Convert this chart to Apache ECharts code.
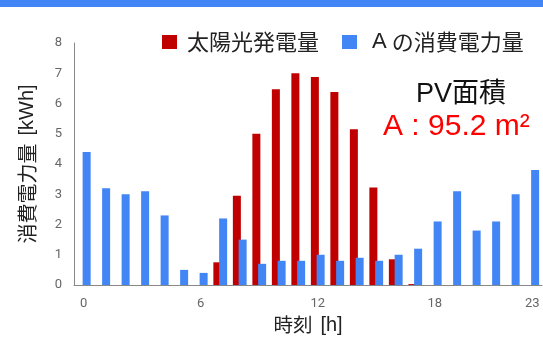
<!DOCTYPE html>
<html>
<head>
<meta charset="utf-8">
<script src="https://cdn.jsdelivr.net/npm/echarts@6/dist/echarts.min.js"></script>
<style>
  html, body { margin: 0; padding: 0; background: #fff; }
  #bar { position: absolute; left: 0; top: 0; width: 543px; height: 7px; background: #4285f4; }
  #chart { width: 543px; height: 338px; }
</style>
</head>
<body>
<div id="chart"></div>
<div id="bar"></div>
<script>
// Hourly data (kWh)
const hours = Array.from({ length: 24 }, (_, i) => String(i));
const shownHourLabels = [0, 6, 12, 18, 23];
const pvGeneration = [0, 0, 0, 0, 0, 0, 0, 0.75, 2.95, 5.0, 6.47, 7.0, 6.88, 6.38, 5.15, 3.22, 0.85, 0.03, 0, 0, 0, 0, 0, 0];
const consumptionA = [4.4, 3.2, 3.0, 3.1, 2.3, 0.5, 0.4, 2.2, 1.5, 0.7, 0.8, 0.8, 1.0, 0.8, 0.9, 0.8, 1.0, 1.2, 2.1, 3.1, 1.8, 2.1, 3.0, 3.8];
const seriesNames = ['太陽光発電量', 'Aの消費電力量'];
const xAxisTitle = ['時刻', '[h]'];
const yAxisTitle = ['消費電力量', '[kWh]'];
const areaTitle = 'PV面積';
const areaValue = 'A : 95.2 m²';

const FONT = "Roboto, 'Noto Sans CJK JP', sans-serif";
const CJK = "'Noto Sans CJK JP', sans-serif";
const LATIN = "'Liberation Sans', sans-serif";
const NOTE_FONT = "'Liberation Sans', 'Noto Sans CJK JP', sans-serif";

// axis titles: Japanese part plus a unit in brackets
const titleRich = (cjkSize) => ({
  a: { fontSize: cjkSize, fontFamily: CJK, color: '#222' },
  b: { fontSize: 20, fontFamily: LATIN, color: '#222', padding: [0, 0, 0, 8] }
});

// legend entries: a leading Latin letter gets its own, wider face
const legendFormatter = (name) => {
  const m = name.match(/^([A-Za-z]+)(.*)$/);
  return m ? '{l|' + m[1] + '}{c|' + m[2] + '}' : '{c|' + name + '}';
};

const chart = echarts.init(document.getElementById('chart'), null, { renderer: 'canvas' });
chart.setOption({
  animation: false,
  textStyle: { fontFamily: FONT },
  grid: { left: 74, right: 1, top: 43, bottom: 53, outerBoundsMode: 'none', containLabel: false },
  legend: {
    left: 162, top: 31, padding: 0,
    icon: 'rect', itemWidth: 15, itemHeight: 14, itemGap: 23,
    formatter: legendFormatter,
    textStyle: {
      fontSize: 22, color: '#222', fontFamily: CJK, padding: [0, 0, 0, 5],
      rich: {
        c: { fontSize: 22, color: '#222', fontFamily: CJK },
        l: { fontSize: 22, color: '#222', fontFamily: LATIN, padding: [0, 5, 0, 5] }
      }
    },
    data: seriesNames
  },
  xAxis: {
    type: 'category',
    data: hours,
    name: '{a|' + xAxisTitle[0] + '}{b|' + xAxisTitle[1] + '}',
    nameLocation: 'middle',
    nameGap: 30,
    nameTextStyle: { rich: titleRich(19.5) },
    axisLine: { lineStyle: { color: '#888', width: 1 } },
    axisTick: { show: false },
    axisLabel: {
      color: '#666', fontSize: 13, margin: 12,
      interval: (i) => shownHourLabels.includes(i)
    }
  },
  yAxis: {
    type: 'value',
    min: 0, max: 8, interval: 1,
    name: '{a|' + yAxisTitle[0] + '}{b|' + yAxisTitle[1] + '}',
    nameLocation: 'middle',
    nameGap: 37,
    nameTextStyle: { rich: titleRich(20) },
    axisLine: { show: true, lineStyle: { color: '#888', width: 1 } },
    axisTick: { show: false },
    splitLine: { show: false },
    axisLabel: { color: '#666', fontSize: 13, margin: 12 }
  },
  graphic: [
    {
      type: 'text', x: 461, y: 95,
      style: { text: areaTitle, align: 'center', verticalAlign: 'middle',
               font: '27px ' + NOTE_FONT, fill: '#111' }
    },
    {
      type: 'text', x: 383, y: 127,
      style: { text: areaValue, align: 'left', verticalAlign: 'middle',
               font: '30px ' + NOTE_FONT, fill: '#ff0000' }
    }
  ],
  series: [
    {
      name: seriesNames[0], type: 'bar', data: pvGeneration,
      barWidth: 8, barGap: '-28%',
      itemStyle: { color: '#c00000' }
    },
    {
      name: seriesNames[1], type: 'bar', data: consumptionA,
      barWidth: 8,
      itemStyle: { color: '#4285f4' }
    }
  ]
});
</script>
</body>
</html>
